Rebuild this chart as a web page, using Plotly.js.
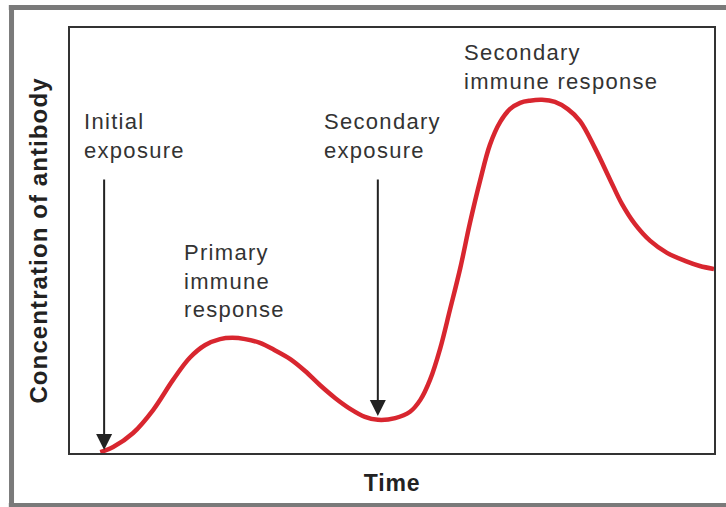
<!DOCTYPE html>
<html>
<head>
<meta charset="utf-8">
<script src="https://cdn.plot.ly/plotly-3.0.1.min.js"></script>
<style>
  html, body { margin: 0; padding: 0; background: #fff; overflow: hidden; }
  #chart { width: 726px; height: 507px; }
  .annotation-text { letter-spacing: 1.3px; }
  .xtitle { letter-spacing: 0.8px; }
  .ytitle { letter-spacing: 1.1px; }
</style>
</head>
<body>
<div id="chart"></div>
<script>
// Curve: antibody concentration over time (arbitrary units, 0-100)
const timeValues = [4.7, 6.7, 9.8, 12.9, 16.0, 18.6, 21.0, 23.3, 25.2, 27.2, 29.5, 31.8, 34.2, 36.5, 38.8, 41.2, 43.5, 45.8, 47.8, 50.5, 52.8, 54.4, 55.9, 57.5, 59.0, 60.6, 62.1, 63.7, 65.2, 66.8, 68.3, 69.9, 71.4, 73.3, 75.3, 77.3, 79.2, 81.5, 83.9, 85.7, 87.7, 90.1, 92.7, 95.5, 97.8, 100];
const antibodyValues = [0.2, 1.4, 4.7, 10.1, 17.2, 22.4, 25.4, 26.8, 27.1, 26.8, 25.9, 24.2, 22.1, 19.3, 16.0, 12.9, 10.4, 8.5, 7.8, 8.2, 9.7, 12.5, 17.2, 24.7, 33.7, 43.5, 54.1, 64.2, 72.5, 77.9, 80.9, 82.4, 82.9, 83.1, 82.6, 80.9, 78.1, 71.8, 64.2, 58.6, 53.9, 49.9, 47.1, 45.2, 44.0, 43.3];

// Exposure arrows
const arrowX = [5.3, 47.8];
const arrowTipY = [0.7, 8.7];
const arrowTailY = [64.7, 64.7];

// Text labels
const labelTexts = ["Initial<br>exposure", "Primary<br>immune<br>response", "Secondary<br>exposure", "Secondary<br>immune response"];
const labelX = [1.9, 17.4, 39.1, 60.9];
const labelY = [81.4, 50.6, 81.4, 97.6];

const xTitle = "Time";
const yTitle = "Concentration of antibody";

const textColor = "#333333";
const annotations = [];
labelTexts.forEach((t, i) => {
  annotations.push({
    x: labelX[i], y: labelY[i], xref: 'x', yref: 'y',
    text: t, showarrow: false, xanchor: 'left', yanchor: 'top', align: 'left',
    font: { family: 'Liberation Sans, Arial, sans-serif', size: 22, color: textColor }
  });
});
arrowX.forEach((x, i) => {
  annotations.push({
    x: x, y: arrowTipY[i], ax: x, ay: arrowTailY[i],
    xref: 'x', yref: 'y', axref: 'x', ayref: 'y',
    text: '', showarrow: true, arrowhead: 2, arrowsize: 1.6, arrowwidth: 2, arrowcolor: '#222222'
  });
});

const trace = {
  x: timeValues, y: antibodyValues, type: 'scatter', mode: 'lines',
  line: { color: '#d8262f', width: 4.5, shape: 'spline', smoothing: 1 },
  hoverinfo: 'skip'
};

const axisCommon = {
  showgrid: false, zeroline: false, showticklabels: false, ticks: '',
  showline: true, mirror: true, linecolor: '#333333', linewidth: 2, fixedrange: true
};

const frameLine = { color: '#7a7a7a', width: 5 };
const layout = {
  width: 726, height: 507,
  margin: { l: 70, r: 12, t: 28, b: 54 },
  paper_bgcolor: '#ffffff', plot_bgcolor: '#ffffff',
  showlegend: false,
  xaxis: Object.assign({}, axisCommon, {
    range: [0, 100],
    title: { text: xTitle, standoff: 21, font: { family: 'Liberation Sans, Arial, sans-serif', size: 23, color: '#222222', weight: 'bold' } }
  }),
  yaxis: Object.assign({}, axisCommon, {
    range: [0, 100],
    title: { text: yTitle, standoff: 14, font: { family: 'Liberation Sans, Arial, sans-serif', size: 24, color: '#222222', weight: 'bold' } }
  }),
  annotations: annotations,
  shapes: [
    { type: 'line', xref: 'paper', yref: 'paper', layer: 'below', x0: -0.095, x1: 1.02, y0: 1.048, y1: 1.048, line: frameLine },
    { type: 'line', xref: 'paper', yref: 'paper', layer: 'below', x0: -0.0908, x1: -0.0908, y0: -0.127, y1: 1.052, line: frameLine },
    { type: 'line', xref: 'paper', yref: 'paper', layer: 'below', x0: -0.095, x1: 1.02, y0: -0.1235, y1: -0.1235, line: frameLine }
  ]
};

Plotly.newPlot('chart', [trace], layout, { displayModeBar: false, staticPlot: true });
</script>
</body>
</html>
